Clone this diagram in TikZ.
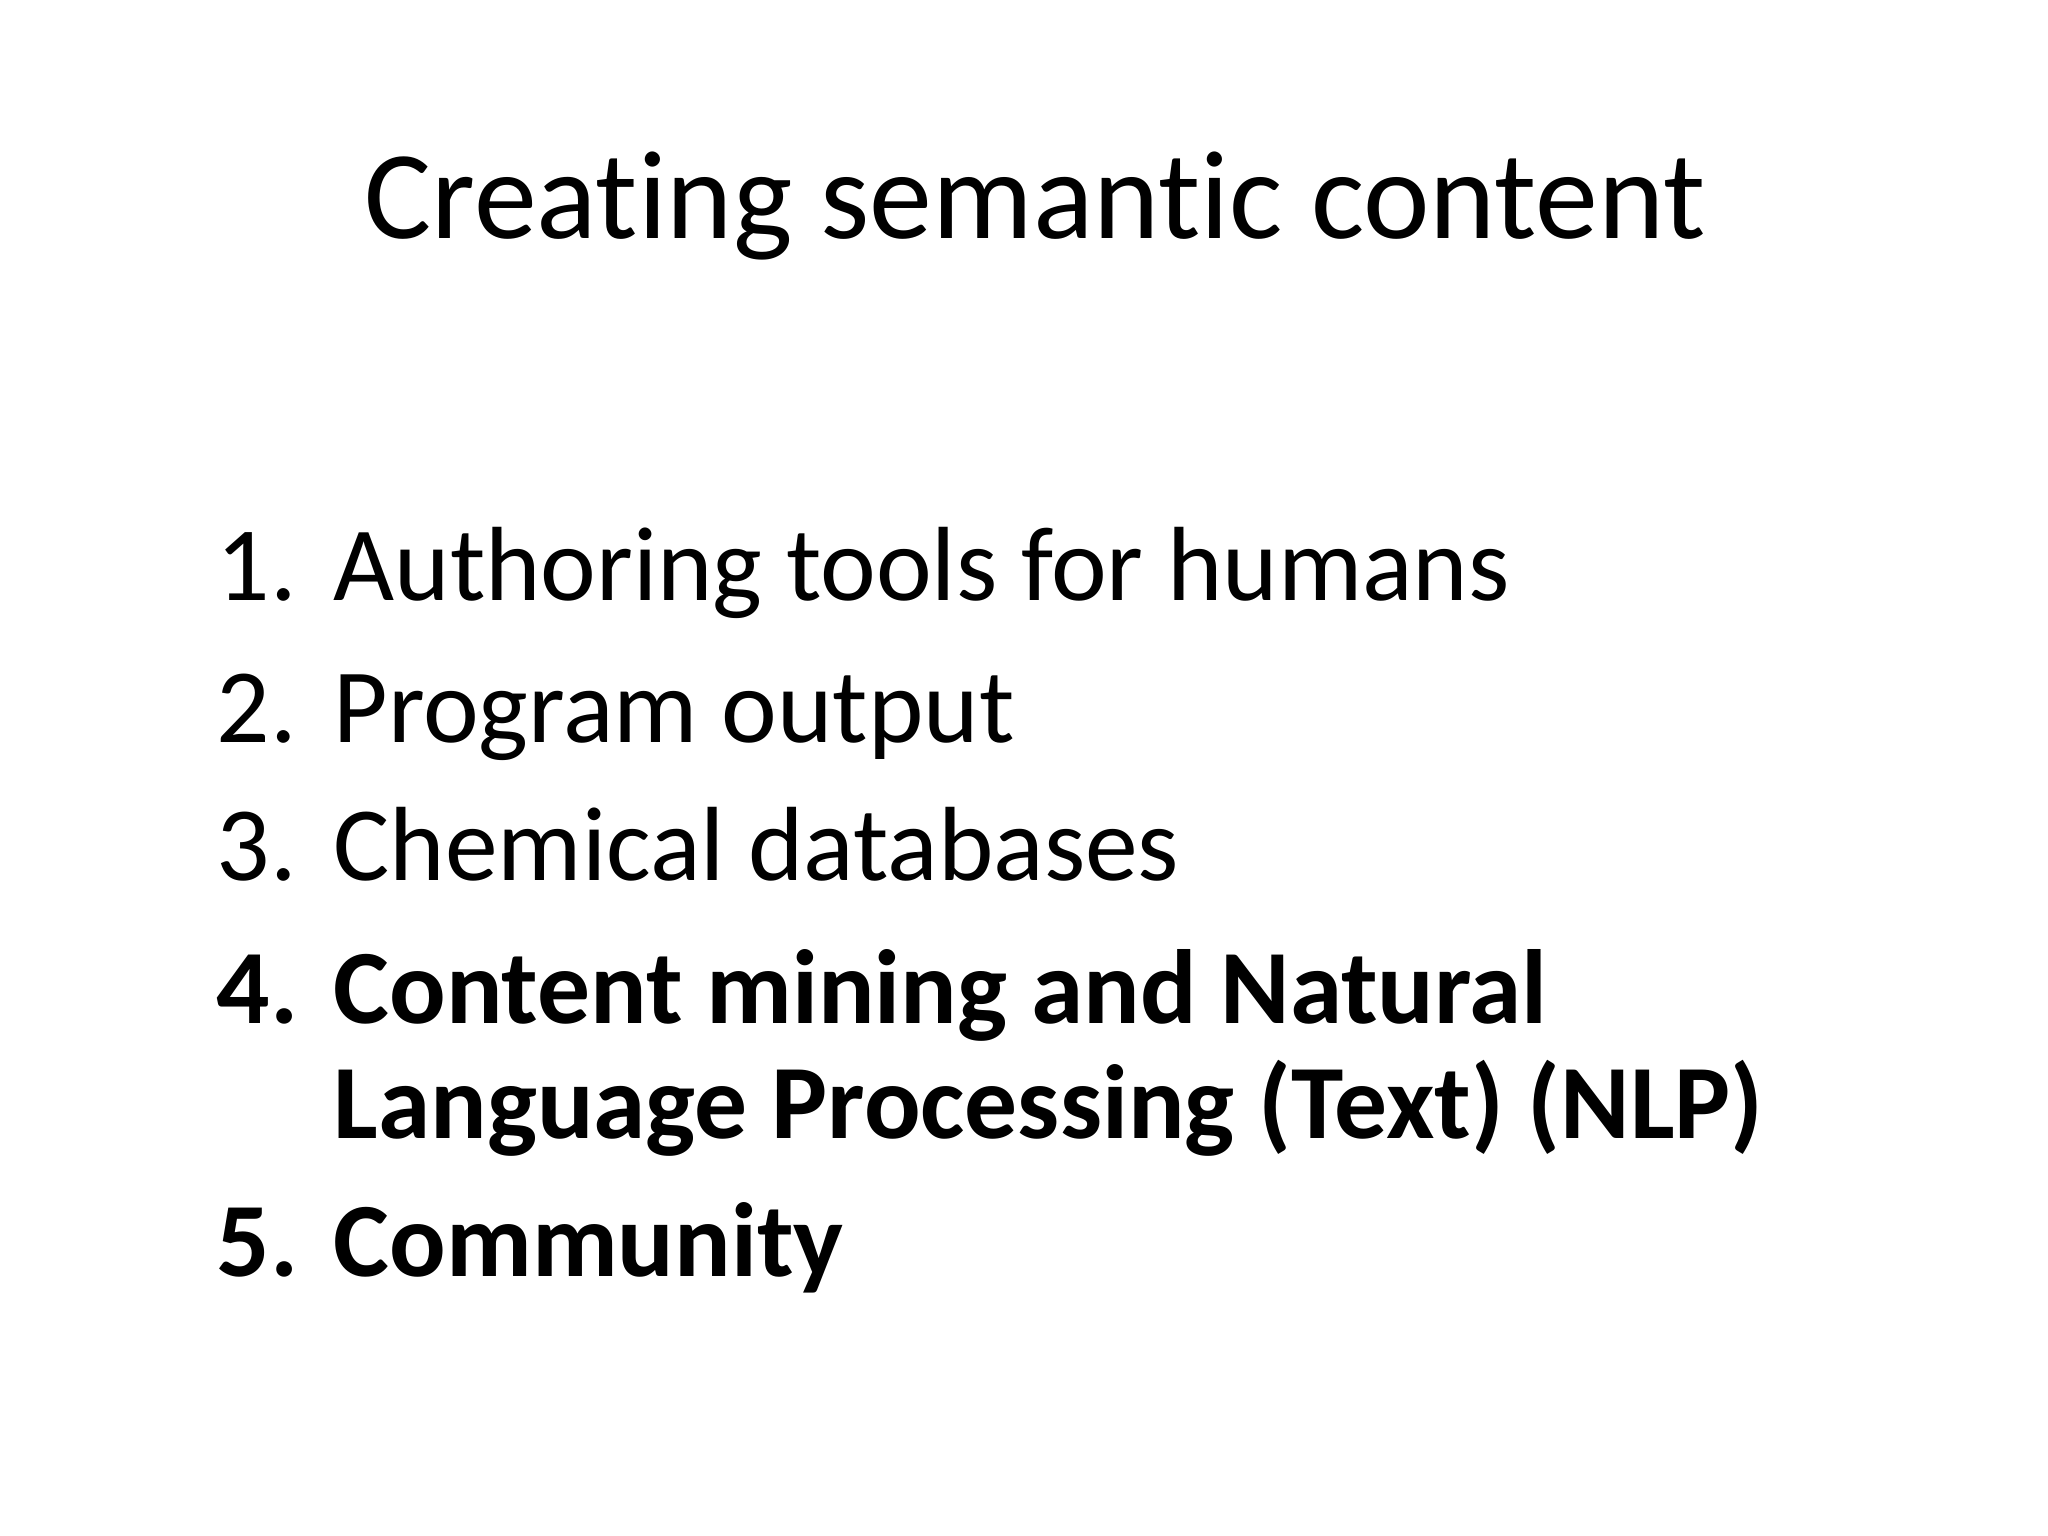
\documentclass[tikz,border=0pt]{standalone}
\usepackage{fontspec}
\setmainfont[Ligatures=NoCommon,Contextuals=NoAlternate]{Carlito}
\begin{document}
\begin{tikzpicture}[x=0.01cm,y=-0.01cm,
  num/.style={anchor=base west,inner sep=0pt,font=\fontsize{30}{36}\selectfont},
  item/.style={anchor=base west,inner sep=0pt,font=\fontsize{30}{36}\selectfont},
  bnum/.style={num,font=\fontsize{30}{36}\selectfont\bfseries},
  bitem/.style={item,font=\fontsize{30}{36}\selectfont\bfseries}]
\useasboundingbox[fill=white] (0,0) rectangle (2048,1536);
\node[anchor=base,inner sep=0pt,font=\fontsize{35.8}{44}\selectfont] (title) at (1035,238) {Creating semantic content};
\node[num] (n1) at (216,600) {1.};
\node[item] (t1) at (333,600) {Authoring tools for humans};
\node[num] (n2) at (216,742) {2.};
\node[item] (t2) at (333,742) {Program output};
\node[num] (n3) at (216,880) {3.};
\node[item] (t3) at (333,880) {Chemical databases};
\node[bnum] (n4) at (216,1023) {4.};
\node[bitem] (t4) at (333,1023) {Content mining and Natural};
\node[bitem] (t4b) at (333,1138) {Language Processing (Text) (NLP)};
\node[bnum] (n5) at (216,1276) {5.};
\node[bitem] (t5) at (333,1276) {Community};
\end{tikzpicture}
\end{document}
